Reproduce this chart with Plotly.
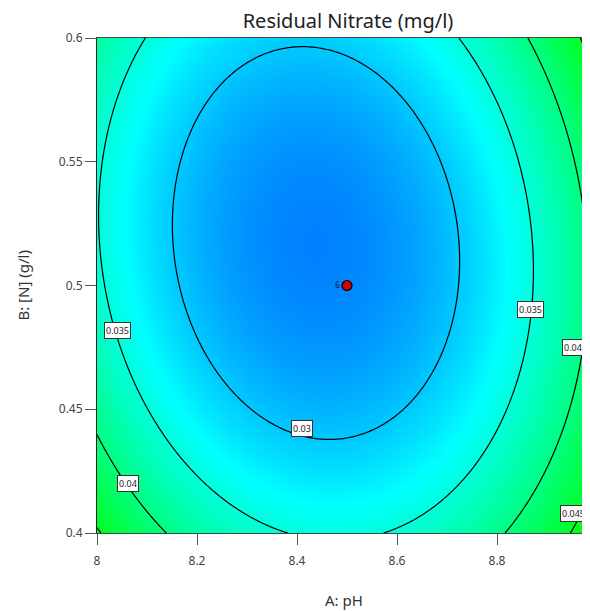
import numpy as np
import plotly.graph_objects as go

# ---- data ----
# quadratic response-surface model in coded factors A=(pH-8.5)/0.5, B=([N]-0.5)/0.1
coef_intercept = 0.02646
coef_A = 0.00266
coef_B = -0.00193
coef_AB = 0.00159
coef_A2 = 0.01183
coef_B2 = 0.00620

ph_limits = [8.0, 9.0]
n_limits = [0.4, 0.6]
contour_levels = [0.03, 0.035, 0.04, 0.045]

x_ticks = [8.0, 8.2, 8.4, 8.6, 8.8, 9.0]
x_ticktext = ["8", "8.2", "8.4", "8.6", "8.8", "9"]
y_ticks = [0.4, 0.45, 0.5, 0.55, 0.6]
y_ticktext = ["0.4", "0.45", "0.5", "0.55", "0.6"]

design_ph = [8.5]
design_n = [0.5]
design_runs = ["6"]

label_levels = ["0.035", "0.04", "0.03", "0.035", "0.04", "0.045"]

# ---- surface ----
ph = np.linspace(ph_limits[0], ph_limits[1], 241)
nn = np.linspace(n_limits[0], n_limits[1], 241)
PH, NN = np.meshgrid(ph, nn)
A = (PH - 8.5) / 0.5
B = (NN - 0.5) / 0.1
Z = (coef_intercept + coef_A * A + coef_B * B + coef_AB * A * B
     + coef_A2 * A ** 2 + coef_B2 * B ** 2)

fig = go.Figure()
fig.add_trace(go.Contour(
    x=ph, y=nn, z=Z,
    colorscale=[[0.0, "rgb(0,0,255)"], [0.5, "rgb(0,255,255)"], [1.0, "rgb(0,255,0)"]],
    zmin=0.019, zmax=0.047,
    autocontour=False,
    contours=dict(start=contour_levels[0], end=contour_levels[-1],
                  size=contour_levels[1] - contour_levels[0],
                  coloring="heatmap", showlabels=False),
    line=dict(color="black", width=1.2, smoothing=1),
    showscale=False, hoverinfo="skip",
))

fig.add_trace(go.Scatter(
    x=design_ph, y=design_n, mode="markers+text",
    text=design_runs, textposition="middle left",
    textfont=dict(size=8, color="#111", family="Noto Sans"),
    marker=dict(color="#d40000", size=10, line=dict(color="black", width=1.2)),
    hoverinfo="skip", showlegend=False,
))

# contour label placement (annotation anchors)
label_pos = [(8.04, 0.482), (8.062, 0.420), (8.41, 0.4424),
             (8.866, 0.4905), (8.952, 0.475), (8.952, 0.4077)]
for txt, (lx, ly) in zip(label_levels, label_pos):
    fig.add_annotation(x=lx, y=ly, text=txt, showarrow=False,
                       font=dict(size=9, color="#222", family="Noto Sans"),
                       bgcolor="white", bordercolor="#333", borderwidth=1, borderpad=1)

axis_font = dict(family="Noto Sans", size=12, color="#444")
fig.update_xaxes(range=[8.0, 8.986], tickvals=x_ticks, ticktext=x_ticktext,
                 ticks="outside", ticklen=11, tickcolor="#555", tickfont=axis_font,
                 ticklabelstandoff=6,
                 showline=True, linecolor="#444", linewidth=1, mirror=True,
                 showgrid=False, zeroline=False)
fig.update_yaxes(range=[0.4, 0.6], tickvals=y_ticks, ticktext=y_ticktext,
                 ticks="outside", ticklen=11, tickcolor="#555", tickfont=axis_font,
                 showline=True, linecolor="#222", linewidth=1, mirror=False,
                 showgrid=False, zeroline=False)

fig.add_annotation(xref="paper", yref="paper", x=0.5, y=-0.1354, text="A: pH",
                   showarrow=False, font=dict(family="Noto Sans", size=15, color="#333"),
                   yanchor="middle")
fig.add_annotation(xref="paper", yref="paper", x=-0.152, y=0.5, text="B: [N] (g/l)",
                   showarrow=False, textangle=-90,
                   font=dict(family="Noto Sans", size=15, color="#333"),
                   xanchor="center", yanchor="middle")

# the page adds an 8px body margin, so the figure is 8px smaller and margins shifted
fig.update_layout(
    width=582, height=603,
    margin=dict(l=89, r=0, t=30, b=78),
    paper_bgcolor="white", plot_bgcolor="white",
    title=dict(text="Residual Nitrate (mg/l)", x=(348 - 8) / 582, xanchor="center",
               y=1 - (21 - 8) / 603, yanchor="middle",
               font=dict(family="Noto Sans", size=20, color="#222")),
    showlegend=False,
)

fig.write_html("out.html")
